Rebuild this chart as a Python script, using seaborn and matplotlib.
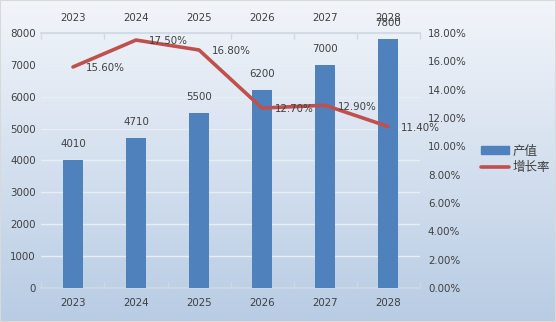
import numpy as np
import pandas as pd
import matplotlib
matplotlib.use("Agg")
import matplotlib.pyplot as plt
import seaborn as sns
from matplotlib.patches import Patch
from matplotlib.lines import Line2D
from matplotlib.ticker import FixedLocator, FuncFormatter

years = ["2023", "2024", "2025", "2026", "2027", "2028"]
output = [4010, 4710, 5500, 6200, 7000, 7800]
growth = [15.60, 17.50, 16.80, 12.70, 12.90, 11.40]
series_names = ["产值", "增长率"]

sns.set_theme(style="white")
plt.rcParams['font.family'] = ['DejaVu Sans', 'Noto Sans CJK SC']

BAR = "#4F81BD"
LINE = "#C0504D"
TXT = "#404040"
FS = 7.4

fig = plt.figure(figsize=(5.56, 3.22), dpi=100)

# gradient background
bg = fig.add_axes([0, 0, 1, 1], zorder=-10)
top = np.array([0xF2, 0xF5, 0xFA]) / 255
bot = np.array([0xB8, 0xCC, 0xE4]) / 255
t = np.linspace(0, 1, 256)[:, None, None]
grad = top * (1 - t) + bot * t
grad = np.repeat(grad, 2, axis=1)
bg.imshow(grad, aspect="auto", extent=[0, 1, 0, 1], origin="upper")
bg.set_axis_off()
fig.patches.append(plt.Rectangle((0, 0), 1, 1, transform=fig.transFigure,
                                 fill=False, edgecolor="#d9d9d9", lw=1.5))

ax = fig.add_axes([0.0746, 0.1056, 0.68, 0.792])
ax.patch.set_alpha(0)
df = pd.DataFrame({"year": years, "output": output, "growth": growth,
                   "pos": np.arange(len(years))})

sns.barplot(data=df, x="year", y="output", color=BAR, width=0.32,
            saturation=1, ax=ax, zorder=3, linewidth=0, edgecolor=BAR)
ax.set_ylim(0, 8000)
ax.set_xlim(-0.5, len(years) - 0.5)
ax.yaxis.set_major_locator(FixedLocator(np.arange(0, 8001, 1000)))
ax.grid(axis="y", color="#e8eef6", lw=1, zorder=0)
ax.grid(axis="x", visible=False)
for s in ["left", "right"]:
    ax.spines[s].set_visible(False)
ax.spines["bottom"].set_color("#d0d8e4")
ax.spines["top"].set_color("#d0d8e4")
ax.set_xlabel("")
ax.set_ylabel("")
ax.tick_params(axis="both", length=0, labelsize=FS, labelcolor=TXT, pad=4)
ax.tick_params(axis="x", labeltop=True, pad=7)
ax.set_xticks(np.arange(len(years)))
ax.set_xticks(np.arange(-0.5, len(years)), minor=True)
ax.tick_params(axis="x", which="minor", length=4, color="#d0d8e4",
               bottom=True, top=True, direction="in")
for p, v in zip(ax.patches, output):
    ax.annotate(f"{v}", (p.get_x() + p.get_width() / 2, p.get_height()),
                xytext=(0, 8), textcoords="offset points", ha="center",
                va="bottom", fontsize=FS, color=TXT, zorder=6)

ax2 = ax.twinx()
sns.lineplot(data=df, x="pos", y="growth", color=LINE, lw=2.6, ax=ax2,
             zorder=4)
ax2.set_ylim(0, 18)
ax2.yaxis.set_major_locator(FixedLocator(np.arange(0, 18.01, 2)))
ax2.yaxis.set_major_formatter(FuncFormatter(lambda v, _: f"{v:.2f}%"))
ax2.tick_params(axis="y", length=0, labelsize=FS, labelcolor=TXT, pad=6)
ax2.set_xlabel("")
ax2.set_ylabel("")
ax2.grid(False)
for s in ax2.spines.values():
    s.set_visible(False)
for xp, g in zip(df["pos"], growth):
    ax2.annotate(f"{g:.2f}%", (xp, g), xytext=(9.5, -1),
                 textcoords="offset points", ha="left", va="center",
                 fontsize=FS, color=TXT, zorder=6)

handles = [Patch(facecolor=BAR, edgecolor=BAR),
           Line2D([0], [0], color=LINE, lw=2.6)]
fig.legend(handles, series_names, loc="center left",
           bbox_to_anchor=(0.845, 0.505), frameon=False,
           handlelength=2.2, handleheight=0.6, labelspacing=0.3,
           handletextpad=0.3, labelcolor=TXT,
           prop={"family": ["Noto Sans CJK SC", "DejaVu Sans"], "size": 9})

fig.savefig("out.png", dpi=100)
